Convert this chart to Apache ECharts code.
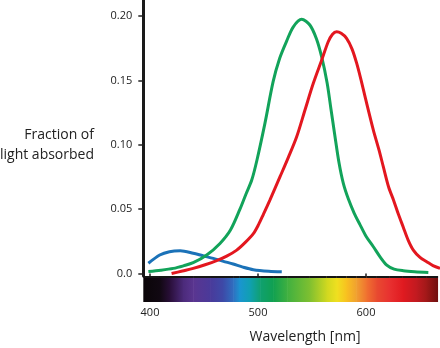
<!DOCTYPE html>
<html>
<head>
<meta charset="utf-8">
<script src="https://cdn.jsdelivr.net/npm/echarts@6/dist/echarts.min.js"></script>
<style>
  html, body { margin: 0; padding: 0; background: #fff; }
  #chart { width: 440px; height: 348px; }
</style>
</head>
<body>
<div id="chart"></div>
<script>
// Axis ticks and their printed labels
const yTicks = [0, 0.05, 0.10, 0.15, 0.20];
const yTickLabels = ['0.0', '0.05', '0.10', '0.15', '0.20'];
const xTicks = [400, 500, 600];

// Absorption curves of the three cone pigments: [wavelength nm, fraction absorbed]
const blueCone = [
  [398.5, 0.0080], [409, 0.0144], [418, 0.0170], [428, 0.0177], [440, 0.0158],
  [449, 0.0138], [458.6, 0.0118], [468, 0.0095], [477, 0.0074], [486, 0.0050],
  [495.7, 0.0030], [510, 0.0018], [522, 0.0014]
];
const greenCone = [
  [398.5, 0.0016], [410, 0.0026], [421.6, 0.0040], [431, 0.0060], [440, 0.0084],
  [452.5, 0.0144], [464.8, 0.0234], [474.5, 0.0338], [483.3, 0.0500], [489, 0.0620],
  [494.2, 0.0726], [499, 0.0880], [506.5, 0.1170], [514, 0.1490], [520, 0.1670],
  [526.5, 0.1805], [532.7, 0.1916], [540.4, 0.1974], [548, 0.1930], [554, 0.1825],
  [559, 0.1680], [564, 0.1480], [567.5, 0.1280], [571, 0.1080], [575, 0.0860],
  [579, 0.0700], [583.6, 0.0580], [589, 0.0470], [594.4, 0.0380], [600, 0.0290],
  [606.8, 0.0208], [613, 0.0130], [619.2, 0.0066], [626, 0.0035], [634.5, 0.0022],
  [645, 0.0014], [657.7, 0.0008]
];
const redCone = [
  [420, 0.0000], [430, 0.0020], [440, 0.0040], [451, 0.0068], [461.7, 0.0100],
  [471, 0.0135], [480.3, 0.0182], [488, 0.0240], [495.7, 0.0310], [500.5, 0.0380],
  [505, 0.0460], [511, 0.0570], [520.4, 0.0752], [528, 0.0900], [535.8, 0.1062],
  [543.5, 0.1270], [551.2, 0.1477], [559, 0.1658], [565, 0.1800], [569, 0.1858],
  [572.8, 0.1877], [577, 0.1865], [582, 0.1826], [587, 0.1745], [591.4, 0.1632],
  [595.5, 0.1500], [599.5, 0.1360], [606.8, 0.1114], [612, 0.0960], [616, 0.0830],
  [621, 0.0670], [625.5, 0.0570], [630, 0.0460], [634.5, 0.0360], [639, 0.0260],
  [643.8, 0.0182], [650, 0.0125], [656.2, 0.0092], [662, 0.0062], [668.5, 0.0040]
];

// Visible spectrum colour stops: [wavelength nm, colour]
const spectrumStops = [
  [393.8, '#0a0508'], [409, '#110812'], [418.5, '#2a0f3a'], [430.5, '#4b2a7a'],
  [440, '#5a3590'], [455.6, '#4a3a9a'], [467.6, '#3d4aa8'], [477, '#2f6fc0'],
  [483, '#1a95d0'], [492.6, '#10a0b0'], [502, '#10a070'], [514, '#10a050'],
  [527, '#40b040'], [548, '#80c030'], [563.6, '#d0d820'], [573, '#f0e020'],
  [582, '#f8c020'], [591, '#f0a030'], [600.6, '#f07030'], [610, '#e84a30'],
  [622, '#e83030'], [634, '#e01a20'], [647, '#c01a20'], [656, '#a01818'],
  [666.7, '#701010']
];

const X_MIN = 393.8, X_MAX = 668.5;
const Y_MIN = -0.0019, Y_MAX = 0.2124;

// Consecutive colour stops become gradient segments of the spectrum strip
const spectrumSegments = spectrumStops.slice(0, -1).map((s, i) => [s[0], spectrumStops[i + 1][0]]);

const chart = echarts.init(document.getElementById('chart'), null, { renderer: 'canvas' });
const labelFont = '"Open Sans", sans-serif';

function coneSeries(name, data, color) {
  return {
    name, type: 'line', data, smooth: 0.3, showSymbol: false,
    lineStyle: { color, width: 3 }, itemStyle: { color }
  };
}

chart.setOption({
  animation: false,
  backgroundColor: '#fff',
  grid: [
    { left: 143.3, right: 0, top: 0, height: 276 },
    { left: 143.3, right: 0, top: 276, height: 26 }
  ],
  xAxis: [
    {
      gridIndex: 0, type: 'value', min: X_MIN, max: X_MAX,
      offset: 26,
      axisLine: { show: false },
      axisTick: { show: true, customValues: xTicks, length: 5, lineStyle: { color: '#222', width: 1.5 } },
      axisLabel: { customValues: xTicks, color: '#222', fontSize: 11, fontFamily: labelFont, margin: 5 },
      splitLine: { show: false }
    },
    { gridIndex: 1, type: 'value', min: X_MIN, max: X_MAX, show: false }
  ],
  yAxis: [
    {
      gridIndex: 0, type: 'value', min: Y_MIN, max: Y_MAX,
      axisLine: { show: true, lineStyle: { color: '#1a1a1a', width: 3 } },
      axisTick: { show: true, customValues: yTicks, length: 5, lineStyle: { color: '#222', width: 1.5 } },
      axisLabel: {
        customValues: yTicks, color: '#222', fontSize: 11, fontFamily: labelFont, margin: 11,
        formatter: v => {
          const i = yTicks.findIndex(t => Math.abs(t - v) < 1e-6);
          return i >= 0 ? yTickLabels[i] : '';
        }
      },
      splitLine: { show: false }
    },
    { gridIndex: 1, type: 'value', min: 0, max: 1, show: false }
  ],
  graphic: [
    { type: 'text', x: 94, y: 135,
      style: { text: 'Fraction of', font: '14px ' + labelFont, fill: '#222', textAlign: 'right', textVerticalAlign: 'middle' } },
    { type: 'text', x: 94, y: 155,
      style: { text: 'light absorbed', font: '14px ' + labelFont, fill: '#222', textAlign: 'right', textVerticalAlign: 'middle' } },
    { type: 'text', x: 305, y: 337,
      style: { text: 'Wavelength [nm]', font: '14px ' + labelFont, fill: '#222', textAlign: 'center', textVerticalAlign: 'middle' } }
  ],
  series: [
    {
      type: 'custom',
      xAxisIndex: 1, yAxisIndex: 1,
      silent: true,
      data: spectrumSegments,
      renderItem: (params, api) => {
        const i = params.dataIndex;
        const p0 = api.coord([api.value(0), 1]);
        const p1 = api.coord([api.value(1), 0]);
        const last = i === spectrumSegments.length - 1;
        const w = p1[0] - p0[0] + (last ? 0 : 0.6);
        return {
          type: 'group',
          children: [
            {
              type: 'rect',
              shape: { x: p0[0], y: p0[1], width: w, height: p1[1] - p0[1] },
              style: {
                fill: new echarts.graphic.LinearGradient(0, 0, 1, 0, [
                  { offset: 0, color: spectrumStops[i][1] },
                  { offset: 1, color: spectrumStops[i + 1][1] }
                ])
              }
            },
            {
              type: 'rect',
              shape: { x: p0[0], y: p0[1], width: w, height: 2 },
              style: { fill: '#151515' }
            }
          ]
        };
      }
    },
    coneSeries('S cones', blueCone, '#1b72b8'),
    coneSeries('M cones', greenCone, '#12a35a'),
    coneSeries('L cones', redCone, '#e3171f')
  ]
});
</script>
</body>
</html>
